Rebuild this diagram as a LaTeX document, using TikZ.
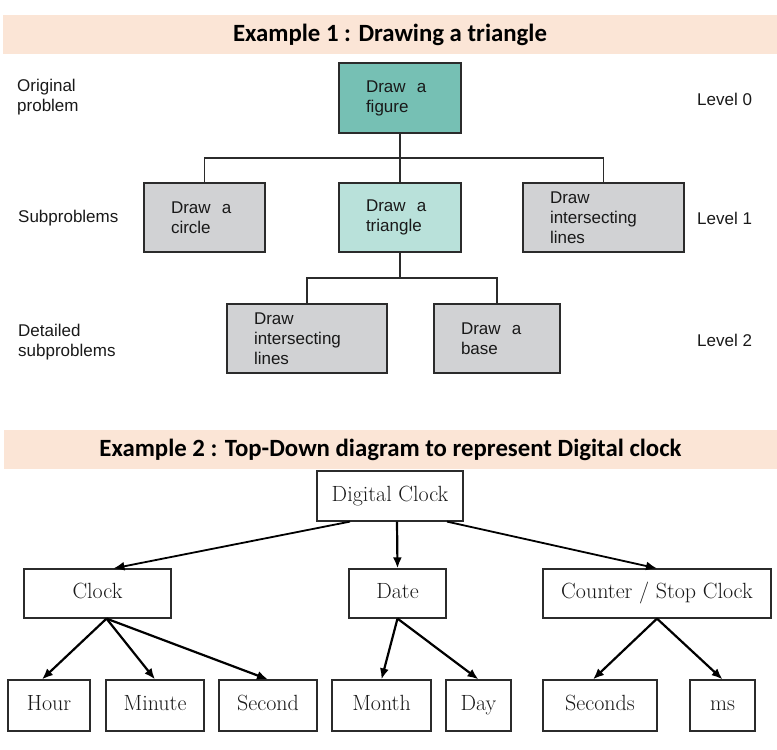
\documentclass[tikz,border=0pt]{standalone}
\usepackage{fontspec}
\usepackage{xcolor}
\usepackage{tikz}
\usetikzlibrary{arrows.meta, calc}
\newfontfamily\sansfam{Liberation Sans}
\newfontfamily\headfam{Carlito}
\definecolor{bandpeach}{HTML}{FBE5D6}
\definecolor{tealdark}{HTML}{76C0B4}
\definecolor{teallight}{HTML}{B9E1DA}
\definecolor{boxgray}{HTML}{D1D2D4}
\definecolor{edgegray}{HTML}{2B2B2B}

\begin{document}
\begin{tikzpicture}[x=1pt, y=-1pt,
    band/.style={rectangle, fill=bandpeach, minimum width=774pt, minimum height=39pt,
                 font=\headfam\bfseries\fontsize{24.8}{28}\selectfont},
    prob/.style={rectangle, draw=edgegray, line width=1.4pt, fill=boxgray,
                 minimum height=69pt, inner xsep=27pt, align=left,
                 font=\sansfam\fontsize{17}{20}\selectfont, text=black!90},
    lbl/.style={inner sep=0pt, align=left, anchor=west,
                font=\sansfam\fontsize{17}{20}\selectfont, text=black!90},
    link/.style={line width=1.4pt, draw=edgegray},
    leaf/.style={rectangle, draw=edgegray, line width=1.2pt, fill=white,
                 minimum height=50pt, text height=15pt, text depth=4.5pt,
                 font=\fontsize{22}{26}\selectfont, text=black!90},
    arr/.style={-{Latex[length=11pt, width=9pt]}, line width=2.2pt}
]
    \useasboundingbox (0,0) rectangle (777,750);

    % Example 1
    \node[band] (head1) at (390,34.5) {Example 1 : Drawing a triangle};

    \node[prob, fill=tealdark, text width=68pt, minimum height=70pt] (fig) at (400,98) {Draw\ \ a\\figure};
    \node[prob, text width=67pt] (circ) at (204.5,217.5) {Draw\ \ a\\circle};
    \node[prob, fill=teallight, text width=68pt] (tri) at (400,217.5) {Draw\ \ a\\triangle};
    \node[prob, text width=107pt] (inter) at (603.5,217.5) {Draw\\intersecting\\lines};
    \node[prob, text width=106pt] (inter2) at (307,338.5) {Draw\\intersecting\\lines};
    \node[prob, text width=72pt] (base) at (497,338.5) {Draw\ \ a\\base};

    % Row labels
    \node[lbl] (orig) at (17,97) {Original\\problem};
    \node[lbl] (subp) at (18,218) {Subproblems};
    \node[lbl] (detl) at (18,342) {Detailed\\subproblems};
    \node[lbl] (lv0) at (697,99) {Level 0};
    \node[lbl] (lv1) at (697,218) {Level 1};
    \node[lbl] (lv2) at (697,340) {Level 2};

    % Tree lines
    \coordinate (j1) at (400,158);
    \coordinate (j2) at (400,278);
    \draw[link] (fig.south) -- (tri.north);
    \draw[link] (circ.north) |- (j1) -| (inter.north);
    \draw[link] (tri.south) -- (j2);
    \draw[link] (inter2.north) |- (j2) -| (base.north);

    % Example 2
    \node[band] (head2) at (390.5,449.5) {Example 2 : Top-Down diagram to represent Digital clock};

    \node[leaf, minimum width=146pt] (dclk) at (390,496) {Digital Clock};

    \node[leaf, minimum width=147pt, minimum height=49pt] (clk) at (97.5,593.5) {Clock};
    \node[leaf, minimum width=97pt, minimum height=49pt] (date) at (397.5,593.5) {Date};
    \node[leaf, minimum width=228pt, minimum height=49pt] (ctr) at (657,593.5) {Counter / Stop Clock};

    \node[leaf, minimum width=82pt, minimum height=51pt] (hour) at (49,705.5) {Hour};
    \node[leaf, minimum width=98pt, minimum height=51pt] (minute) at (155,705.5) {Minute};
    \node[leaf, minimum width=98pt, minimum height=51pt] (second) at (268,705.5) {Second};
    \node[leaf, minimum width=99pt, minimum height=51pt] (month) at (381.5,705.5) {Month};
    \node[leaf, minimum width=65pt, minimum height=51pt] (day) at (478.5,705.5) {Day};
    \node[leaf, minimum width=114pt, minimum height=51pt] (secs) at (600,705.5) {Seconds};
    \node[leaf, minimum width=65pt, minimum height=51pt] (ms) at (722.5,705.5) {ms};

    % Arrows
    \draw[arr, line width=1.8pt] ($(dclk.south)+(-40,0)$) -- ($(clk.north)+(16,0)$);
    \draw[arr] ($(dclk.south)+(7,0)$) -- (date.north);
    \draw[arr, line width=1.8pt] ($(dclk.south)+(57,0)$) -- (ctr.north);

    \draw[arr] ($(clk.south)+(9,0)$) -- ($(hour.north)+(-7,0)$);
    \draw[arr] ($(clk.south)+(9,0)$) -- (minute.north);
    \draw[arr] ($(clk.south)+(9,0)$) -- (second.north);
    \draw[arr] (date.south) -- (month.north);
    \draw[arr] (date.south) -- (day.north);
    \draw[arr] (ctr.south) -- ($(secs.north)+(-7,0)$);
    \draw[arr] (ctr.south) -- (ms.north);
\end{tikzpicture}
\end{document}
